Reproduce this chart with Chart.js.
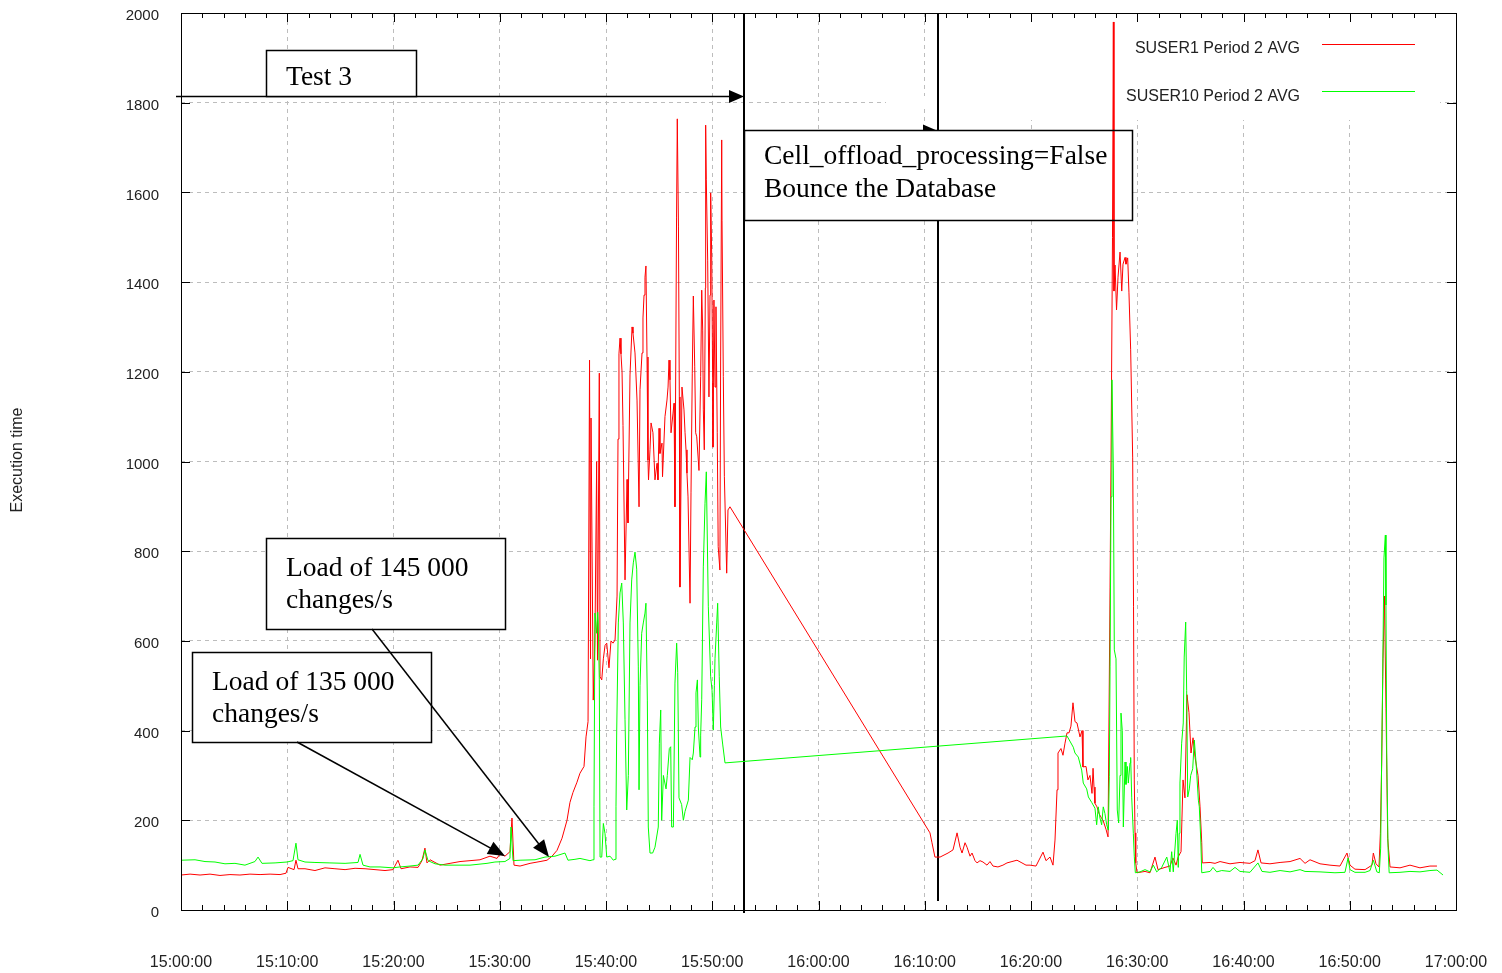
<!DOCTYPE html>
<html><head><meta charset="utf-8">
<script src="https://cdn.jsdelivr.net/npm/chart.js@4.4.1/dist/chart.umd.min.js"></script>
<style>html,body{margin:0;padding:0;background:#fff}#wrap{width:1502px;height:973px}</style>
</head><body><div id="wrap"><canvas id="c" width="1502" height="973"></canvas></div>
<script>
// [minutes after 15:00:00, execution time]
const redSeries=[
[0,78],[0.85,80],[1.79,78],[2.73,80],[3.67,77],[4.61,79],[5.55,78],[6.49,80],[7.44,79],[8.38,80],[9.32,79],[9.88,82],
[10.07,95],[10.64,90],[10.82,111],[11.01,92],[11.67,92],[12.61,88],[13.55,94],[14.49,92],[15.44,90],[16.38,93],[17.32,92],
[18.26,90],[19.2,88],[19.95,90],[20.42,111],[20.71,92],[21.55,96],[22.31,95],[22.68,110],[22.96,138],[23.15,105],[23.44,112],
[24.38,100],[25.32,104],[26.26,108],[27.2,110],[28.14,112],[29.08,120],[29.74,115],[30.02,125],[30.49,120],[30.96,130],
[31.15,205],[31.34,100],[31.91,98],[32.85,104],[33.79,108],[34.45,111],[34.92,120],[35.39,133],[35.86,160],[36.33,200],
[36.61,240],[36.89,262],[37.27,285],[37.55,305],[37.93,320],[38.12,386],[38.31,420],[38.45,1226],[38.54,560],[38.59,1097],
[38.8,468],[38.96,602],[39.12,1000],[39.2,557],[39.37,1197],[39.44,520],[39.6,513],[39.75,560],[39.91,590],[40.07,595],
[40.28,540],[40.47,600],[40.66,595],[40.85,602],[41.04,700],[41.13,1050],[41.22,1240],[41.32,1275],[41.41,1240],[41.51,1200],
[41.6,1080],[41.79,736],[41.98,960],[42.07,863],[42.26,1193],[42.45,1300],[42.54,1286],[42.73,1242],[42.92,1137],[43.11,899],
[43.2,1160],[43.39,1242],[43.48,1320],[43.58,1371],[43.67,1411],[43.76,1436],[43.86,1233],[43.95,1003],[44,959],[44.14,1026],
[44.24,1086],[44.42,1064],[44.61,959],[44.8,996],[44.89,959],[44.99,1074],[45.08,1018],[45.27,1041],[45.32,966],[45.55,1100],
[45.74,1137],[45.84,1166],[45.93,1226],[46.02,1182],[46.12,1064],[46.31,1108],[46.4,1130],[46.49,899],[46.64,1545],[46.71,1764],
[46.82,1523],[46.9,1144],[46.96,720],[47.15,1166],[47.34,1115],[47.44,1064],[47.53,1026],[47.62,974],[47.72,921],[47.91,684],
[48,930],[48.12,1197],[48.22,1369],[48.35,1211],[48.44,1064],[48.54,1055],[48.75,980],[48.91,1189],[49.01,1382],[49.1,1293],
[49.16,1115],[49.25,1026],[49.35,1387],[49.38,1750],[49.44,1628],[49.57,1449],[49.69,1144],[49.79,1371],[49.85,1599],[49.95,1456],
[50.04,1175],[50.07,1032],[50.16,1360],[50.26,1166],[50.35,1345],[50.47,1064],[50.56,810],[50.72,758],[50.79,1233],[50.89,1717],
[50.92,1538],[51.04,1189],[51.14,966],[51.36,751],[51.48,892],[51.67,899],
[70.49,172],[70.68,150],[70.96,118],[71.44,118],[72.19,127],[72.66,134],[73.04,172],[73.32,140],[73.51,127],[73.79,150],
[73.98,140],[74.26,120],[74.45,127],[74.73,110],[74.92,105],[75.2,110],[75.48,107],[75.86,100],[76.14,108],[76.42,98],
[76.89,96],[77.36,100],[77.74,105],[78.21,108],[78.68,111],[79.15,105],[79.53,100],[79.91,100],[80.47,98],[81.13,129],
[81.41,110],[81.79,118],[82.07,100],[82.26,156],[82.45,268],[82.54,350],[82.82,360],[83.01,345],[83.2,372],[83.39,395],
[83.58,395],[83.76,410],[83.95,462],[84.14,420],[84.33,417],[84.61,386],[84.8,400],[84.89,319],[85.18,320],[85.36,290],
[85.55,300],[85.74,260],[85.84,316],[85.93,274],[86.02,238],[86.21,230],[86.4,215],[86.59,207],[86.78,200],[87.06,180],
[87.25,163],[87.44,720],[87.53,1000],[87.67,1500],[87.75,1980],[87.81,1380],[87.91,1438],[88.05,1338],[88.19,1411],[88.38,1467],
[88.54,1380],[88.66,1440],[88.85,1455],[88.94,1440],[89.1,1454],[89.22,1376],[89.38,1249],[89.57,1008],[89.65,676],[89.72,290],
[89.79,172],[89.86,105],[89.98,83],[90.73,86],[91.2,83],[91.67,118],[91.95,90],[92.61,95],[93.08,98],[93.36,116],
[93.65,100],[93.84,118],[94.12,130],[94.31,290],[94.49,250],[94.68,480],[94.87,440],[95.06,350],[95.25,384],[95.44,340],
[95.72,300],[95.91,230],[96.07,150],[96.12,105],[96.85,106],[97.32,104],[97.79,108],[98.73,103],[99.67,106],[100.61,104],
[101.08,110],[101.36,134],[101.65,105],[102.49,103],[103.44,106],[104.38,108],[105.32,115],[105.79,104],[106.26,112],[107.2,103],
[108.14,100],[109.08,98],[109.74,127],[110.02,100],[110.49,91],[111.44,90],[112.09,100],[112.22,127],[112.47,103],[112.75,96],
[112.88,170],[113.01,330],[113.13,560],[113.27,700],[113.41,450],[113.57,160],[113.79,96],[114.73,94],[115.67,100],[116.61,94],
[117.55,98],[118.21,98]
]
const greenSeries=[
[0,111],[1.32,112],[2.26,108],[3.2,107],[4.14,103],[5.08,104],[6.02,100],[6.96,108],[7.25,118],[7.62,104],[8.85,105],[9.98,107],
[10.54,110],[10.82,149],[11.01,112],[11.67,107],[12.61,106],[14.02,105],[15.44,104],[16.66,106],[16.85,124],[17.13,100],
[17.79,96],[18.73,96],[19.95,94],[20.61,96],[21.55,98],[22.31,100],[22.78,115],[22.96,134],[23.25,110],[23.91,103],[24.85,100],
[26.26,100],[27.2,100],[28.8,104],[29.55,107],[30.49,108],[30.96,115],[31.06,185],[31.25,110],[31.91,111],[33.32,112],[34.26,118],
[35.2,120],[36.14,127],[36.42,111],[37.08,113],[37.55,115],[38.49,110],[38.78,112],[38.87,230],[38.96,662],[39.12,617],
[39.22,664],[39.27,640],[39.37,513],[39.44,118],[39.6,118],[39.75,193],[39.91,170],[40.07,118],[40.38,120],[40.69,111],
[40.85,113],[40.94,230],[41.01,401],[41.16,640],[41.32,707],[41.48,729],[41.63,640],[41.79,424],[41.95,223],[42.1,300],
[42.26,640],[42.42,736],[42.57,774],[42.73,798],[42.89,760],[43.04,542],[43.11,268],[43.2,500],[43.36,617],[43.51,640],
[43.67,662],[43.76,684],[43.89,468],[43.98,185],[44.14,127],[44.39,127],[44.61,140],[44.92,185],[45.02,372],[45.15,446],
[45.24,200],[45.4,300],[45.65,270],[45.77,300],[45.96,360],[46.09,364],[46.18,185],[46.34,185],[46.49,506],[46.65,595],
[46.75,530],[46.87,250],[47.12,235],[47.28,200],[47.44,220],[47.75,245],[47.91,340],[48.12,335],[48.22,350],[48.38,408],
[48.47,484],[48.6,513],[48.69,408],[48.85,341],[48.91,390],[49.01,470],[49.16,765],[49.32,907],[49.44,977],[49.63,676],
[49.85,520],[49.98,490],[50.1,401],[50.2,500],[50.26,560],[50.42,640],[50.51,684],[50.66,520],[50.79,408],[50.98,370],[51.2,328],
[83.39,388],[83.98,363],[84.14,350],[84.45,341],[84.77,312],[84.92,283],[85.24,270],[85.4,252],[85.71,240],[86.02,227],
[86.18,190],[86.33,230],[86.49,205],[86.65,190],[86.8,230],[86.96,215],[87.12,190],[87.28,178],[87.37,297],[87.44,542],
[87.53,921],[87.62,1182],[87.75,981],[87.84,580],[88,560],[88.12,223],[88.25,194],[88.38,300],[88.47,439],[88.59,400],
[88.69,185],[88.85,330],[88.94,280],[89.07,320],[89.16,283],[89.32,328],[89.38,340],[89.48,250],[89.63,171],[89.72,120],
[89.82,83],[90.26,85],[90.73,90],[91.2,85],[91.51,100],[91.83,85],[92.3,95],[92.78,118],[93.08,85],[93.24,130],[93.39,85],
[93.65,171],[93.77,200],[93.86,95],[93.95,171],[94.02,283],[94.18,372],[94.33,417],[94.42,564],[94.56,642],[94.65,490],
[94.75,252],[94.9,270],[95.03,300],[95.22,315],[95.37,379],[95.53,330],[95.75,245],[95.84,230],[95.98,156],[96.07,83],
[96.85,86],[97.13,95],[97.48,85],[97.95,88],[98.73,86],[99.2,95],[99.67,86],[100.61,84],[101.36,105],[101.74,86],[102.49,84],
[103.44,88],[104.38,85],[105.32,90],[105.79,86],[107.2,85],[108.61,83],[109.55,84],[109.84,116],[110.02,90],[110.49,84],
[111.44,84],[111.91,88],[112.22,111],[112.55,85],[112.78,83],[112.91,138],[113.01,350],[113.1,520],[113.22,785],[113.35,836],
[113.41,680],[113.48,350],[113.6,140],[113.71,83],[114.73,84],[115.67,86],[116.61,85],[117.55,88],[118.21,89],[118.78,78]
]
const xTickLabels=['15:00:00','15:10:00','15:20:00','15:30:00','15:40:00','15:50:00','16:00:00','16:10:00','16:20:00','16:30:00','16:40:00','16:50:00','17:00:00']
const yTickLabels=['0','200','400','600','800','1000','1200','1400','1600','1800','2000']
const seriesNames=['SUSER1 Period 2 AVG','SUSER10 Period 2 AVG']
const yTitle='Execution time'
// boxes: x, y, w, h in pixels, text lines and baselines
const notes=[
{x:266,y:50,w:150,h:46,text:['Test 3'],base:[85]},
{x:744,y:130,w:388,h:90,text:['Cell_offload_processing=False','Bounce the Database'],base:[164,197]},
{x:266,y:538,w:239,h:91,text:['Load of 145 000','changes/s'],base:[576,608]},
{x:192,y:652,w:239,h:90,text:['Load of 135 000','changes/s'],base:[690,722]}
]

function seg(g,x1,y1,x2,y2){g.beginPath();g.moveTo(x1,y1);g.lineTo(x2,y2);g.stroke()}
function head(g,x1,y1,x2,y2,len,w){
 const a=Math.atan2(y2-y1,x2-x1),c=Math.cos(a),s=Math.sin(a)
 g.beginPath();g.moveTo(x2,y2)
 g.lineTo(x2-len*c+w*s,y2-len*s-w*c)
 g.lineTo(x2-len*c-w*s,y2-len*s+w*c)
 g.closePath();g.fill()
}
function arrow(g,x1,y1,x2,y2,len,w){
 const a=Math.atan2(y2-y1,x2-x1)
 seg(g,x1,y1,x2-len*0.6*Math.cos(a),y2-len*0.6*Math.sin(a))
 head(g,x1,y1,x2,y2,len,w)
}

const annot={
id:'annot',
beforeDatasetsDraw(chart){
 const g=chart.ctx,xs=chart.scales.x,ys=chart.scales.y,a=chart.chartArea
 g.save()
 // key area has no grid
 g.fillStyle='#fff'
 g.fillRect(886,96,554,10)
 g.fillRect(1000,a.top+1,440,106)
 g.strokeStyle='#000';g.fillStyle='#000';g.lineWidth=2
 const v1=Math.round(xs.getPixelForValue(53)),v2=Math.round(xs.getPixelForValue(71.25))
 seg(g,v1,a.top+1,v1,a.bottom+3)
 seg(g,v2,a.top+1,v2,a.bottom-9)
 g.lineWidth=1.5
 const yA=Math.round(ys.getPixelForValue(1815))+0.5
 arrow(g,176,yA,v1,yA,15,6.5)
 const yB=Math.round(ys.getPixelForValue(1737))
 arrow(g,v1,yB,v2,yB,15,6.5)
 g.fillStyle='#fff'
 notes.forEach(n=>g.fillRect(n.x,n.y,n.w,n.h))
 g.restore()
},
afterDatasetsDraw(chart){
 const g=chart.ctx,xs=chart.scales.x,ys=chart.scales.y,a=chart.chartArea
 g.save()
 g.strokeStyle='#000';g.fillStyle='#000';g.lineWidth=1.5
 notes.forEach(n=>{
  g.strokeRect(n.x+0.5,n.y+0.5,n.w,n.h)
  g.font='27.5px "Liberation Serif"';g.textAlign='left';g.textBaseline='alphabetic'
  n.text.forEach((t,i)=>g.fillText(t,n.x+20,n.base[i]))
 })
 arrow(g,372,629,549,857,17,7)
 arrow(g,297,742,505,856,17,7)
 // frame and ticks
 g.lineWidth=1
 g.strokeRect(a.left+0.5,a.top+0.5,a.right-a.left,a.bottom-a.top)
 for(let m=0;m<=120;m+=2){
  const px=Math.round(xs.getPixelForValue(m))+0.5,L=m%10==0?9:5
  seg(g,px,a.bottom,px,a.bottom-L);seg(g,px,a.top,px,a.top+L)
 }
 for(let v=0;v<=2000;v+=200){
  const py=Math.round(ys.getPixelForValue(v))+0.5
  seg(g,a.left,py,a.left+9,py);seg(g,a.right,py,a.right-9,py)
 }
 // key
 g.font='16px "Liberation Sans"';g.fillStyle='#222';g.textAlign='right';g.textBaseline='alphabetic'
 g.fillText(seriesNames[0],1300,53)
 g.fillText(seriesNames[1],1300,101)
 g.strokeStyle='#ff0000';seg(g,1322,44.5,1415,44.5)
 g.strokeStyle='#00ff00';seg(g,1322,91.5,1415,91.5)
 // y title
 g.translate(22,460);g.rotate(-Math.PI/2);g.textAlign='center'
 g.fillText(yTitle,0,0)
 g.restore()
}
}

const chart=new Chart(document.getElementById('c'),{
type:'line',
data:{datasets:[
 {label:seriesNames[1],data:greenSeries.map(p=>({x:p[0],y:p[1]})),borderColor:'#00ff00',borderWidth:1,pointRadius:0,tension:0,fill:false},
 {label:seriesNames[0],data:redSeries.map(p=>({x:p[0],y:p[1]})),borderColor:'#ff0000',borderWidth:1,pointRadius:0,tension:0,fill:false}
]},
options:{
 responsive:false,animation:false,events:[],
 layout:{padding:{top:13,right:46,left:0,bottom:0}},
 plugins:{legend:{display:false},tooltip:{enabled:false}},
 scales:{
  x:{type:'linear',min:0,max:120,
   afterFit:s=>{s.height=63;s.paddingLeft=0;s.paddingRight=0;s.paddingTop=0;s.paddingBottom=0},
   ticks:{stepSize:10,autoSkip:false,maxRotation:0,padding:43,color:'#222',font:{family:'Liberation Sans',size:16},callback:v=>xTickLabels[Math.round(v/10)]},
   grid:{color:'#bdbdbd',drawTicks:false},border:{display:false,dash:[4,4]}},
  y:{min:0,max:2000,
   afterFit:s=>{s.width=181;s.paddingLeft=0;s.paddingRight=0;s.paddingTop=0;s.paddingBottom=0},
   ticks:{stepSize:200,padding:22,labelOffset:3,color:'#222',font:{family:'Liberation Sans',size:15},callback:v=>yTickLabels[Math.round(v/200)]},
   grid:{color:'#bdbdbd',drawTicks:false},border:{display:false,dash:[4,4]}}
 }
},
plugins:[annot]
})
</script>
</body></html>
